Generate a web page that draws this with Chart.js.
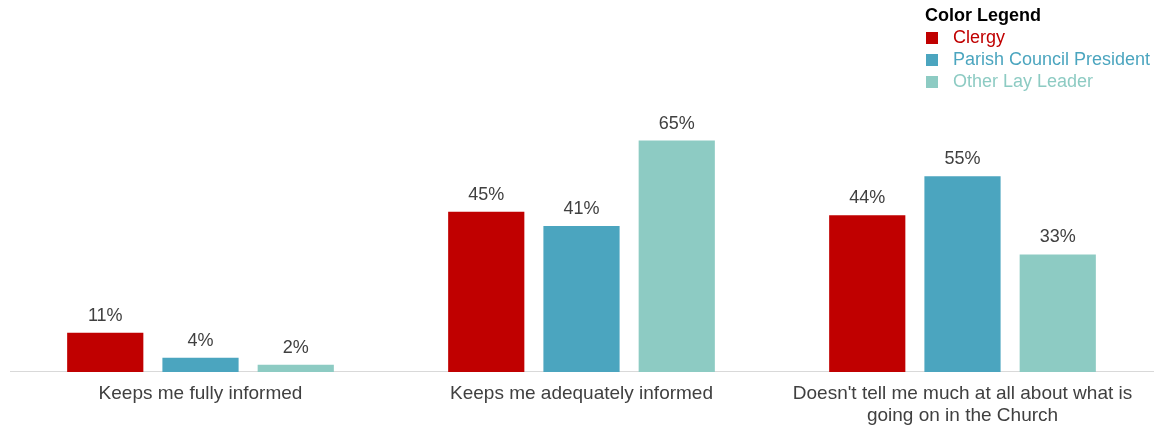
<!DOCTYPE html>
<html>
<head>
<meta charset="utf-8">
<script src="https://cdn.jsdelivr.net/npm/chart.js@4.4.1/dist/chart.umd.min.js"></script>
<style>
  html, body { margin: 0; padding: 0; background: #fff; }
  #wrap { width: 1154px; height: 428px; position: relative; }
</style>
</head>
<body>
<div id="wrap"><canvas id="chart"></canvas></div>
<script>
// categories + series (percent)
const categories = [
  'Keeps me fully informed',
  'Keeps me adequately informed',
  ["Doesn't tell me much at all about what is", 'going on in the Church']
];
const seriesNames = ['Clergy', 'Parish Council President', 'Other Lay Leader'];
const clergy = [11, 45, 44];
const parishPresident = [4, 41, 55];
const otherLay = [2, 65, 33];
const seriesColors = ['#C00000', '#4BA5BF', '#8DCBC3'];

const FONT = "'Liberation Sans', Arial, sans-serif";

// value labels over each bar
const barLabels = {
  id: 'barLabels',
  afterDatasetsDraw(chart) {
    const ctx = chart.ctx;
    ctx.save();
    ctx.font = '18px ' + FONT;
    ctx.fillStyle = '#404040';
    ctx.textAlign = 'center';
    ctx.textBaseline = 'middle';
    chart.data.datasets.forEach((ds, i) => {
      chart.getDatasetMeta(i).data.forEach((bar, j) => {
        ctx.fillText(ds.data[j] + '%', bar.x, bar.y - 17);
      });
    });
    ctx.restore();
  }
};

// legend box in the top right corner
const colorLegend = {
  id: 'colorLegend',
  afterDraw(chart) {
    const ctx = chart.ctx;
    const x = 925, y0 = 16;
    ctx.save();
    ctx.textBaseline = 'middle';
    ctx.textAlign = 'left';
    ctx.font = 'bold 18px ' + FONT;
    ctx.fillStyle = '#000';
    ctx.fillText('Color Legend', x, y0);
    ctx.font = '18px ' + FONT;
    chart.data.datasets.forEach((ds, i) => {
      const y = y0 + 22 * (i + 1);
      ctx.fillStyle = ds.backgroundColor;
      ctx.fillRect(x + 1, y - 6, 12, 12);
      ctx.fillText(ds.label, x + 28, y);
    });
    ctx.restore();
  }
};

const values = [clergy, parishPresident, otherLay];

new Chart(document.getElementById('chart'), {
  type: 'bar',
  data: {
    labels: categories,
    datasets: seriesNames.map((name, i) => ({
      label: name,
      data: values[i],
      backgroundColor: seriesColors[i],
      categoryPercentage: 0.75,
      barPercentage: 0.8
    }))
  },
  options: {
    responsive: true,
    maintainAspectRatio: false,
    animation: false,
    layout: { padding: { left: 10, right: 1, top: 16, bottom: -10 } },
    plugins: {
      legend: { display: false },
      tooltip: { enabled: false }
    },
    scales: {
      x: {
        grid: { display: false, drawTicks: false },
        border: { display: true, color: '#D9D9D9', width: 1 },
        ticks: {
          color: '#404040',
          padding: 11,
          maxRotation: 0,
          autoSkip: false,
          font: { family: FONT, size: 19, lineHeight: 1.16 }
        }
      },
      y: {
        display: false,
        min: 0,
        max: 100
      }
    }
  },
  plugins: [barLabels, colorLegend]
});
</script>
</body>
</html>
